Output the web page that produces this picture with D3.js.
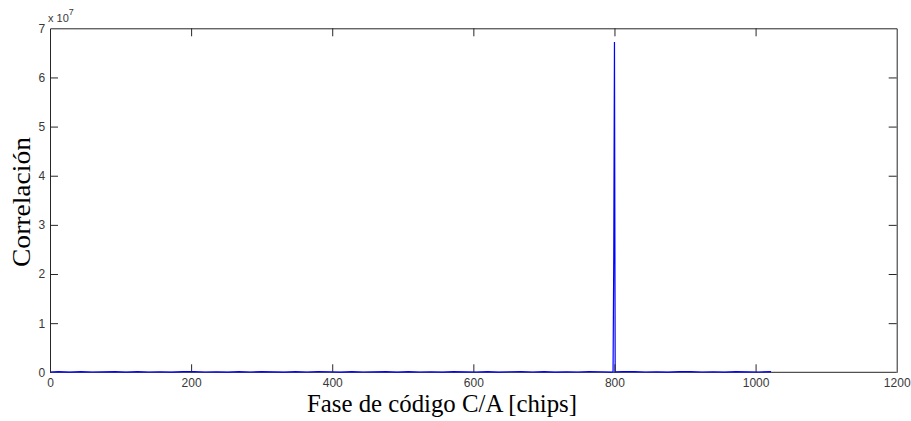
<!DOCTYPE html>
<html>
<head>
<meta charset="utf-8">
<script src="https://cdn.jsdelivr.net/npm/d3@7"></script>
<style>
  html, body { margin: 0; padding: 0; background: #ffffff; }
  svg { display: block; }
</style>
</head>
<body>
<svg id="chart" width="911" height="421"></svg>
<script>
// ---- data (correlation in units of 1e7) ----
const xTicks = [0, 200, 400, 600, 800, 1000, 1200];
const yTicks = [0, 1, 2, 3, 4, 5, 6, 7];
const xTitle = "Fase de código C/A [chips]";
const yTitle = "Correlación";
const yExponent = "7";

// noise floor samples (chip positions and values, ×1e7)
const noiseChips = [0, ...d3.range(12, 1020, 16), 1022];
const noiseValues = [
  0.006, 0.012, 0.005, 0.014, 0.006, 0.010, 0.012, 0.005, 0.013, 0.006,
  0.011, 0.005, 0.012, 0.014, 0.006, 0.010, 0.005, 0.012, 0.006, 0.013,
  0.010, 0.005, 0.012, 0.006, 0.014, 0.011, 0.005, 0.012, 0.006, 0.010,
  0.013, 0.005, 0.012, 0.006, 0.011, 0.005, 0.014, 0.010, 0.006, 0.012,
  0.005, 0.011, 0.013, 0.006, 0.012, 0.005, 0.010, 0.006, 0.014, 0.011,
  0.005, 0.012, 0.013, 0.006, 0.010, 0.005, 0.012, 0.014, 0.006, 0.011,
  0.005, 0.013, 0.010, 0.006, 0.012
];
// correlation peak
const peakChips = [798, 799, 800, 801];
const peakValues = [0.01, 2.35, 6.72, 0.01];

// ---- build series ----
const series = noiseChips.map((c, i) => ({x: c, y: noiseValues[i]}))
  .concat(peakChips.map((c, i) => ({x: c, y: peakValues[i]})))
  .sort((a, b) => a.x - b.x);

// ---- layout ----
const svg = d3.select("#chart");
const L = 50, R = 896.7, T = 28.3, B = 372.3;
const x = d3.scaleLinear().domain([0, 1200]).range([L, R]);
const y = d3.scaleLinear().domain([0, 7]).range([B, T]);
const axisColor = "#262626";
const tickLen = 8;
const font = "'Liberation Sans', Arial, sans-serif";

// bottom axis line (under the data line)
svg.append("line")
  .attr("x1", L).attr("x2", R).attr("y1", B).attr("y2", B)
  .attr("stroke", axisColor).attr("stroke-width", 1);

// plot line
svg.append("path")
  .datum(series)
  .attr("fill", "none")
  .attr("stroke", "#0000ff")
  .attr("stroke-width", 1.2)
  .attr("d", d3.line().x(d => x(d.x)).y(d => y(d.y)));

// axes (box with inward ticks on all sides)
const fmt = d3.format("d");
const gB = svg.append("g").attr("transform", `translate(0,${B})`)
  .call(d3.axisBottom(x).tickValues(xTicks).tickFormat(fmt).tickSizeInner(-tickLen).tickSizeOuter(0).tickPadding(6));
const gT = svg.append("g").attr("transform", `translate(0,${T})`)
  .call(d3.axisTop(x).tickValues(xTicks).tickSizeInner(-tickLen).tickSizeOuter(0).tickFormat(""));
const gL = svg.append("g").attr("transform", `translate(${L},0)`)
  .call(d3.axisLeft(y).tickValues(yTicks).tickFormat(fmt).tickSizeInner(-tickLen).tickSizeOuter(0).tickPadding(6));
const gR = svg.append("g").attr("transform", `translate(${R},0)`)
  .call(d3.axisRight(y).tickValues(yTicks).tickSizeInner(-tickLen).tickSizeOuter(0).tickFormat(""));

gB.select(".domain").remove();
[gB, gT, gL, gR].forEach(g => {
  g.select(".domain").attr("stroke", axisColor).attr("stroke-width", 1);
  g.selectAll(".tick line").attr("stroke", axisColor).attr("stroke-width", 1);
  g.selectAll(".tick text").attr("fill", "#383838")
    .style("font-family", font).style("font-size", "12px");
});
// remove end ticks that coincide with box edges
gB.selectAll(".tick").filter(d => d === 0 || d === 1200).select("line").remove();
gT.selectAll(".tick").filter(d => d === 0 || d === 1200).select("line").remove();
gL.selectAll(".tick").filter(d => d === 0 || d === 7).select("line").remove();
gR.selectAll(".tick").filter(d => d === 0 || d === 7).select("line").remove();
gL.selectAll(".tick text").attr("dx", "0.1em");

// exponent label
const exp = svg.append("text")
  .attr("x", 48).attr("y", 22)
  .attr("fill", "#383838")
  .style("font-family", font).style("font-size", "11px");
exp.append("tspan").text("x 10");
exp.append("tspan").attr("dy", -7).style("font-size", "9px").text(yExponent);

// axis titles
const serif = "'Liberation Serif', 'DejaVu Serif', serif";
svg.append("text")
  .attr("x", 442).attr("y", 412)
  .attr("text-anchor", "middle")
  .attr("textLength", 270).attr("lengthAdjust", "spacingAndGlyphs")
  .attr("fill", "#000")
  .style("font-family", serif).style("font-size", "25px")
  .text(xTitle);

svg.append("text")
  .attr("transform", "translate(30,202) rotate(-90)")
  .attr("text-anchor", "middle")
  .attr("textLength", 130).attr("lengthAdjust", "spacingAndGlyphs")
  .attr("fill", "#000")
  .style("font-family", serif).style("font-size", "25px")
  .text(yTitle);
</script>
</body>
</html>
